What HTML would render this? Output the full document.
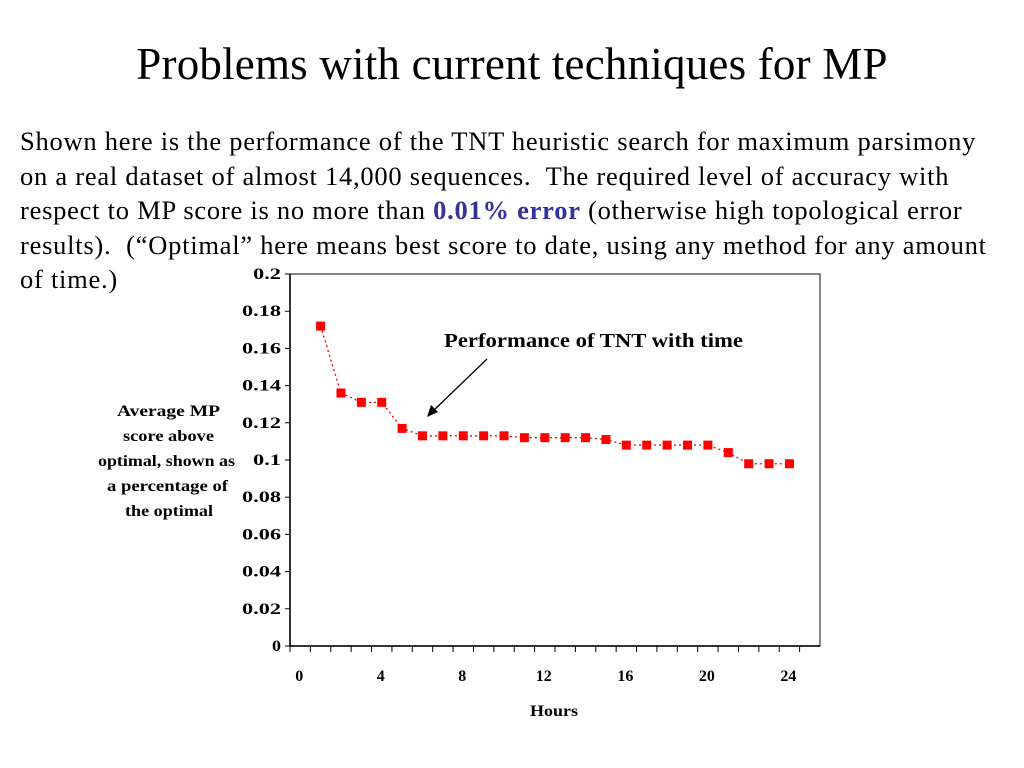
<!DOCTYPE html>
<html><head><style>
body{margin:0;width:1024px;height:768px;background:#fff;overflow:hidden;position:relative;font-family:"Liberation Serif",serif}
.t{position:absolute;left:0;width:1024px;text-align:center;top:38px;font-size:45px;letter-spacing:0.2px}
.p{position:absolute;left:20px;top:124px;font-size:26.5px;line-height:34.5px;white-space:nowrap;letter-spacing:0.75px}
</style></head><body>
<div class="t">Problems with current techniques for MP</div>
<div class="p">Shown here is the performance of the TNT heuristic search for maximum parsimony<br>on a real dataset of almost 14,000 sequences.&nbsp; The required level of accuracy with<br>respect to MP score is no more than <b style="color:#333399">0.01% error</b> (otherwise high topological error<br>results).&nbsp; (“Optimal” here means best score to date, using any method for any amount<br>of time.)</div>
<svg width="1024" height="768" style="position:absolute;left:0;top:0" font-family="Liberation Serif" font-weight="bold">
<g id="g"></g>
</svg>
<script>
const g=document.getElementById('g');let s='';
const X=i=>290+530/26*(i+0.5), Y=v=>646-v/0.2*372;
s+='<rect x="290" y="274" width="530" height="372" fill="none" stroke="#444" stroke-width="1.3"/>';
s+='<line x1="290" y1="646" x2="820" y2="646" stroke="#000" stroke-width="1.5"/><line x1="290" y1="274" x2="290" y2="646" stroke="#000" stroke-width="1.5"/>';
for(let k=0;k<=10;k++){const y=646-k*37.2;const t=k==0?'0':k==10?'0.2':(k*0.02).toFixed(2).replace(/0$/,'');const w=t.length==4?39:t.length==3?28:9;s+=`<line x1="285" y1="${y}" x2="290" y2="${y}" stroke="#000"/><text x="281" y="${y+5}" font-size="16" text-anchor="end" textLength="${w}" lengthAdjust="spacingAndGlyphs">${t}</text>`;}
for(let i=0;i<=25;i++){const x=290+530/26*i;s+=`<line x1="${x}" y1="646" x2="${x}" y2="652" stroke="#000"/>`;}
for(let i=0;i<=24;i+=4)s+=`<text x="${X(i)-1}" y="681" font-size="16" text-anchor="middle">${i}</text>`;
s+='<text x="530" y="716" font-size="16" textLength="48" lengthAdjust="spacingAndGlyphs">Hours</text>';
const d=[0.172,0.136,0.131,0.131,0.117,0.113,0.113,0.113,0.113,0.113,0.112,0.112,0.112,0.112,0.111,0.108,0.108,0.108,0.108,0.108,0.104,0.098,0.098,0.098];
s+='<polyline fill="none" stroke="#e00" stroke-width="1.3" stroke-dasharray="2,3" points="'+d.map((v,i)=>X(i+1)+','+Y(v)).join(' ')+'"/>';
d.forEach((v,i)=>s+=`<rect x="${X(i+1)-4.5}" y="${Y(v)-4.5}" width="9" height="9" fill="#f00"/>`);
s+='<text x="444" y="347" font-size="20" textLength="299" lengthAdjust="spacingAndGlyphs">Performance of TNT with time</text>';
s+='<line x1="487" y1="359" x2="432" y2="412" stroke="#000" stroke-width="1.3"/><polygon points="427,417 431,405 438,412" fill="#000"/>';
[['Average MP',117,103],['score above',123,91],['optimal, shown as',98,137],['a percentage of',107,121],['the optimal',125,88]].forEach((t,i)=>s+=`<text x="${t[1]}" y="${416+i*25}" font-size="16" textLength="${t[2]}" lengthAdjust="spacingAndGlyphs">${t[0]}</text>`);
g.innerHTML=s;
</script>
</body></html>
